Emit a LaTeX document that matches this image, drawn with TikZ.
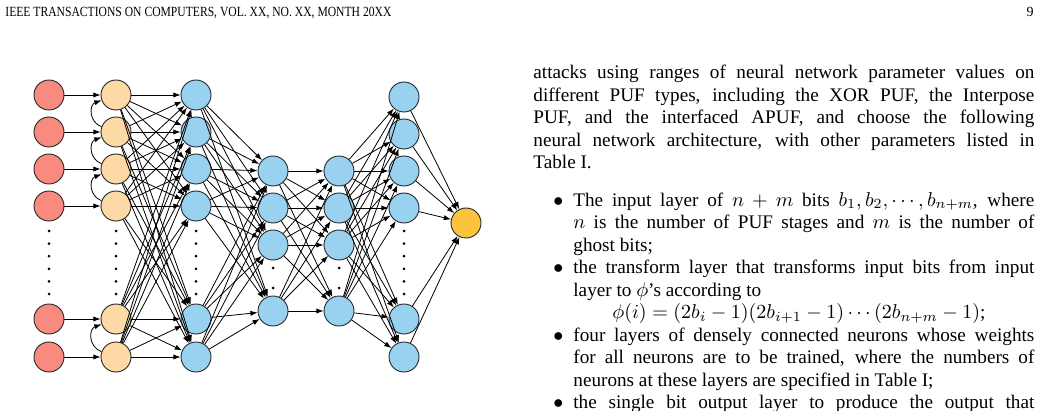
\documentclass[tikz,border=0pt]{standalone}
\usepackage{fontspec}
\setmainfont{Liberation Serif}
\usetikzlibrary{arrows.meta}
\definecolor{inred}{HTML}{F98A80}
\definecolor{tforange}{HTML}{FDD9A6}
\definecolor{hidblue}{HTML}{99D1F0}
\definecolor{outyellow}{HTML}{FCC43C}
\begin{document}
\begin{tikzpicture}[x=0.5pt,y=-0.5pt,
  neuron/.style={circle, draw=black!85, line width=0.45pt, minimum size=15pt, inner sep=0pt},
  inp/.style={neuron, fill=inred},
  tfn/.style={neuron, fill=tforange},
  hid/.style={neuron, fill=hidblue},
  outn/.style={neuron, fill=outyellow},
  conn/.style={-{Latex[length=3.6pt,width=2.6pt]}, line width=0.4pt, black},
  body/.style={anchor=base west, inner sep=0pt, font=\fontsize{9.6}{11.5}\selectfont},
  hdr/.style={inner sep=0pt, font=\fontsize{7}{8}\selectfont},
  bul/.style={anchor=base west, inner sep=0pt, font=\fontsize{9.6}{11.5}\selectfont},
]
\useasboundingbox (0,0) rectangle (1043,411);
\clip (0,0) rectangle (1043,411);
\fill[white] (0,0) rectangle (1043,411);

% header
\node[hdr, anchor=base west] (head) at (5,17) {\scalebox{0.83}[1]{IEEE TRANSACTIONS ON COMPUTERS, VOL.~XX, NO.~XX, MONTH 20XX}};
\node[hdr, anchor=base east] (pagenum) at (1034,17) {9};

% neurons
\foreach \y [count=\i] in {95,132,169,206,319,357} {
  \node[inp] (a\i) at (49,\y) {};
  \node[tfn] (b\i) at (116,\y) {};
  \node[hid] (c\i) at (196,\y) {};
}
\foreach \y [count=\i] in {97,134,171,208,319,357}
  \node[hid] (f\i) at (404,\y) {};
\foreach \y [count=\i] in {171,208,245,311} {
  \node[hid] (d\i) at (273,\y) {};
  \node[hid] (e\i) at (339,\y) {};
}
\node[outn] (o) at (466,223) {};

% vertical dots
\foreach \x in {49,116,196,404}
  \foreach \y in {231,243.6,256.2,268.8,281.4,294}
    \fill (\x,\y) circle (1.5);
\foreach \x in {273,339}
  \foreach \y in {268,288}
    \fill (\x,\y) circle (1.5);

% connections
\foreach \i in {1,...,6} \draw[conn] (a\i) -- (b\i);
\foreach \i/\j in {2/1,3/2,4/3,6/5}
  \draw[conn] (b\i.160) to[out=160,in=200,looseness=1.3] (b\j.200);
\foreach \i in {1,...,6} \foreach \j in {1,...,6} \draw[conn] (b\i) -- (c\j);
\foreach \i in {1,...,6} \foreach \j in {1,...,4} \draw[conn] (c\i) -- (d\j);
\foreach \i in {1,...,4} \foreach \j in {1,...,4} \draw[conn] (d\i) -- (e\j);
\foreach \i in {1,...,4} \foreach \j in {1,...,6} \draw[conn] (e\i) -- (f\j);
\foreach \i in {1,...,6} \draw[conn] (f\i) -- (o);

% text column
\node[body] (p1) at (533,79) {\makebox[250.5pt][s]{attacks using ranges of neural network parameter values on}};
\node[body] (p2) at (533,101.5) {\makebox[250.5pt][s]{different PUF types, including the XOR PUF, the Interpose}};
\node[body] (p3) at (533,124) {\makebox[250.5pt][s]{PUF, and the interfaced APUF, and choose the following}};
\node[body] (p4) at (533,146.5) {\makebox[250.5pt][s]{neural network architecture, with other parameters listed in}};
\node[body] (p5) at (533,169) {Table I.};

\node[bul] (u1) at (553,206) {$\bullet$};
\node[body] (i1) at (573,206) {\makebox[230.5pt][s]{The input layer of $n+m$ bits $b_1,b_2,\cdots,b_{n+m}$, where}};
\node[body] (i2) at (573,228.5) {\makebox[230.5pt][s]{$n$ is the number of PUF stages and $m$ is the number of}};
\node[body] (i3) at (573,251) {ghost bits;};
\node[bul] (u2) at (553,273.5) {$\bullet$};
\node[body] (i4) at (573,273.5) {\makebox[230.5pt][s]{the transform layer that transforms input bits from input}};
\node[body] (i5) at (573,296) {layer to $\phi$'s according to};
\node[body] (i6) at (612,318.5) {$\phi(i)=(2b_i-1)(2b_{i+1}-1)\cdots(2b_{n+m}-1)$;};
\node[bul] (u3) at (553,341) {$\bullet$};
\node[body] (i7) at (573,341) {\makebox[230.5pt][s]{four layers of densely connected neurons whose weights}};
\node[body] (i8) at (573,363.5) {\makebox[230.5pt][s]{for all neurons are to be trained, where the numbers of}};
\node[body] (i9) at (573,386) {neurons at these layers are specified in Table I;};
\node[bul] (u4) at (553,408.5) {$\bullet$};
\node[body] (i10) at (573,408.5) {\makebox[230.5pt][s]{the single bit output layer to produce the output that}};
\end{tikzpicture}
\end{document}
